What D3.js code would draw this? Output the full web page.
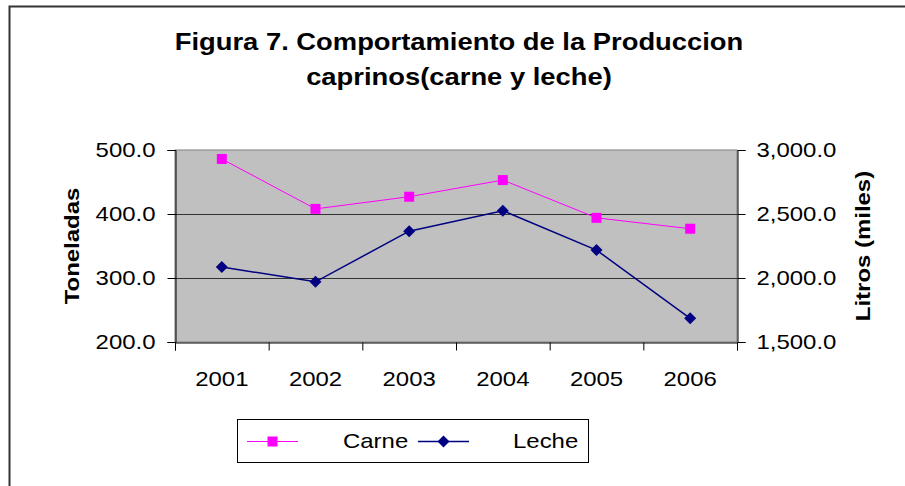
<!DOCTYPE html>
<html>
<head>
<meta charset="utf-8">
<script src="https://cdn.jsdelivr.net/npm/d3@7"></script>
<style>
  body { margin: 0; background: #fff; }
  text { font-family: "Liberation Sans", Arial, sans-serif; fill: #000; }
</style>
</head>
<body>
<div id="chart"></div>
<script>
var years = ["2001", "2002", "2003", "2004", "2005", "2006"];
var carne = [486, 408, 427, 453, 394, 377];       // Toneladas (left axis)
var leche = [2086, 1970, 2366, 2526, 2218, 1685]; // Litros (miles), right axis
var leftTicks = [200, 300, 400, 500];
var rightTicks = [1500, 2000, 2500, 3000];
var titleLines = ["Figura 7. Comportamiento de la Produccion", "caprinos(carne y leche)"];

var W = 905, H = 486;
var plot = {left: 175, right: 737, top: 150, bottom: 342};
var STRETCH = 1.14; // the reference text is a bit wider than plain Arial

/* widen text horizontally to match the reference */
function stretch(sel) {
  sel.each(function() {
    var n = this.getComputedTextLength();
    d3.select(this).attr("textLength", n * STRETCH).attr("lengthAdjust", "spacingAndGlyphs");
  });
}

var svg = d3.select("#chart").append("svg")
    .attr("width", W)
    .attr("height", H);

// outer frame, runs off the right and bottom of the picture
svg.append("rect")
    .attr("x", 9.5).attr("y", 6.5)
    .attr("width", W + 20).attr("height", H + 20)
    .attr("fill", "#fff")
    .attr("stroke", "#333")
    .attr("stroke-width", 2);

// title
svg.selectAll(".title").data(titleLines).enter().append("text")
    .attr("class", "title")
    .attr("x", 459)
    .attr("y", function(d, i) { return 49.5 + i * 35; })
    .attr("text-anchor", "middle")
    .style("font-size", "24px")
    .style("font-weight", "bold")
    .text(function(d) { return d; })
    .call(stretch);

var x = d3.scaleBand().domain(years).range([plot.left, plot.right]),
    xEdges = d3.scaleLinear().domain([0, years.length]).range([plot.left, plot.right]),
    yL = d3.scaleLinear().domain([200, 500]).range([plot.bottom, plot.top]),
    yR = d3.scaleLinear().domain([1500, 3000]).range([plot.bottom, plot.top]);

// plot area
svg.append("rect")
    .attr("x", plot.left).attr("y", plot.top)
    .attr("width", plot.right - plot.left)
    .attr("height", plot.bottom - plot.top)
    .attr("fill", "#c0c0c0")
    .attr("stroke", "#808080");

// gridlines
svg.append("g").selectAll("line").data(leftTicks.slice(1, -1)).enter().append("line")
    .attr("x1", plot.left).attr("x2", plot.right)
    .attr("y1", function(d) { return Math.round(yL(d)) + 0.5; })
    .attr("y2", function(d) { return Math.round(yL(d)) + 0.5; })
    .attr("stroke", "#333");

var fmt = d3.format(",.1f");

var gL = svg.append("g")
    .attr("transform", "translate(" + (plot.left + 0.5) + ",0)")
    .call(d3.axisLeft(yL).tickValues(leftTicks).tickSize(8).tickPadding(12).tickFormat(fmt));

var gR = svg.append("g")
    .attr("transform", "translate(" + (plot.right + 0.5) + ",0)")
    .call(d3.axisRight(yR).tickValues(rightTicks).tickSize(8).tickPadding(11).tickFormat(fmt));

/* tick marks sit between the categories, labels in the middle */
var gX = svg.append("g")
    .attr("transform", "translate(0," + (plot.bottom + 0.5) + ")")
    .call(d3.axisBottom(xEdges).tickValues(d3.range(years.length + 1)).tickSize(8).tickFormat(""));

var gXl = svg.append("g")
    .attr("transform", "translate(0," + plot.bottom + ")")
    .call(d3.axisBottom(x).tickSize(0).tickPadding(0));
gXl.select(".domain").remove();
gXl.selectAll("text").attr("y", 44).attr("dy", null);

[gL, gR, gX, gXl].forEach(function(g) {
  g.selectAll(".domain").attr("stroke", "#000");
  g.selectAll(".tick line").attr("stroke", "#000");
  g.selectAll("text")
      .style("font-size", "21px")
      .style("font-family", "'Liberation Sans', Arial, sans-serif")
      .attr("fill", "#000")
      .call(stretch);
});

// axis titles
svg.append("text")
    .attr("transform", "translate(79," + ((plot.top + plot.bottom) / 2) + ") rotate(-90)")
    .attr("text-anchor", "middle")
    .style("font-size", "21px")
    .style("font-weight", "bold")
    .text("Toneladas")
    .call(stretch);

svg.append("text")
    .attr("transform", "translate(870," + ((plot.top + plot.bottom) / 2) + ") rotate(-90)")
    .attr("text-anchor", "middle")
    .style("font-size", "21px")
    .style("font-weight", "bold")
    .text("Litros (miles)")
    .call(stretch);

// series
var cx = function(d, i) { return x(years[i]) + x.bandwidth() / 2; };

var lineL = d3.line().x(cx).y(function(d) { return yL(d); });
var lineR = d3.line().x(cx).y(function(d) { return yR(d); });

svg.append("path").datum(leche)
    .attr("d", lineR).attr("fill", "none")
    .attr("stroke", "#000080").attr("stroke-width", 1.5);

svg.append("path").datum(carne)
    .attr("d", lineL).attr("fill", "none")
    .attr("stroke", "#ff00ff").attr("stroke-width", 1);

var square = d3.symbol().type(d3.symbolSquare).size(100);
var diamond = d3.symbol().type(d3.symbolSquare).size(72);

svg.append("g").selectAll("path").data(leche).enter().append("path")
    .attr("d", diamond)
    .attr("transform", function(d, i) { return "translate(" + cx(d, i) + "," + yR(d) + ") rotate(45)"; })
    .attr("fill", "#000080");

svg.append("g").selectAll("path").data(carne).enter().append("path")
    .attr("d", square)
    .attr("transform", function(d, i) { return "translate(" + cx(d, i) + "," + yL(d) + ")"; })
    .attr("fill", "#ff00ff");

// legend
var legend = svg.append("g");
legend.append("rect")
    .attr("x", 237.5).attr("y", 419.5)
    .attr("width", 351).attr("height", 43)
    .attr("fill", "#fff").attr("stroke", "#000");

var legItems = [
  {name: "Carne", color: "#ff00ff", sym: square, rot: 0, x0: 247, tx: 343},
  {name: "Leche", color: "#000080", sym: diamond, rot: 45, x0: 418, tx: 513}
];
legItems.forEach(function(it) {
  legend.append("line")
      .attr("x1", it.x0).attr("x2", it.x0 + 51)
      .attr("y1", 441.5).attr("y2", 441.5)
      .attr("stroke", it.color).attr("stroke-width", it.rot ? 1.5 : 1);
  legend.append("path")
      .attr("d", it.sym)
      .attr("transform", "translate(" + (it.x0 + 25.5) + ",441.5) rotate(" + it.rot + ")")
      .attr("fill", it.color);
  legend.append("text")
      .attr("x", it.tx).attr("y", 448)
      .style("font-size", "21px")
      .text(it.name)
      .call(stretch);
});
</script>
</body>
</html>
